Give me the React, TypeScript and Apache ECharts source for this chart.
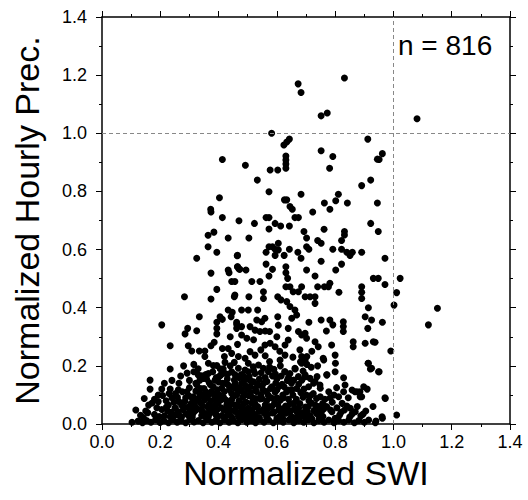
import React, { useEffect, useRef } from "react";
import * as echarts from "echarts";

// Scatter points, grouped by height band [SWI, Prec]
const upperPoints: [number, number][] = [
  [0.673,1.170],[0.683,1.140],[0.832,1.190],[0.752,1.060],[0.773,1.070],[1.081,1.050],[0.582,1.000],
  [0.643,0.980],[0.634,0.970],[0.624,0.960],[0.912,0.980],[0.752,0.940],[0.792,0.920],[0.962,0.930],
  [0.951,0.910],[0.413,0.910],[0.492,0.890],[0.631,0.922],[0.631,0.908],[0.631,0.894],[0.631,0.880],
  [0.577,0.874],[0.603,0.874],[0.781,0.880],[0.403,0.778],[0.373,0.739],[0.374,0.729],[0.413,0.710],
  [0.470,0.699],[0.384,0.660],[0.364,0.649],[0.433,0.640],[0.364,0.610],[0.394,0.591],[0.325,0.570],
  [0.464,0.579],[0.374,0.519],[0.433,0.530],[0.436,0.520],[0.465,0.541],[0.470,0.533],[0.533,0.839],
  [0.573,0.799],[0.683,0.790],[0.626,0.771],[0.634,0.771],[0.645,0.748],[0.653,0.739],[0.763,0.760],
  [0.802,0.768],[0.811,0.790],[0.782,0.739],[0.842,0.760],[0.891,0.820],[0.922,0.839],[0.945,0.911],
  [0.945,0.760],[0.723,0.729],[0.523,0.690],[0.563,0.710],[0.573,0.710],[0.594,0.690],[0.613,0.681],
  [0.643,0.681],[0.662,0.710],[0.674,0.710],[0.573,0.671],[0.504,0.640],[0.693,0.662],[0.702,0.640],
  [0.762,0.670],[0.740,0.631],[0.752,0.622],[0.832,0.662],[0.832,0.650],[0.822,0.631],[0.922,0.690],
  [0.948,0.662],[0.573,0.610],[0.585,0.610],[0.605,0.622],[0.594,0.601],[0.605,0.599],[0.563,0.591],
  [0.643,0.601],[0.625,0.580],[0.672,0.591],[0.683,0.570],[0.702,0.610],[0.710,0.601],[0.594,0.580],
  [0.792,0.601],[0.822,0.601],[0.840,0.591],[0.851,0.580],[0.859,0.591],[0.891,0.591],[0.752,0.560],
  [0.822,0.550],[0.802,0.530],[0.465,0.580],[0.465,0.541],[0.473,0.532],[0.494,0.530],[0.563,0.550],
  [0.585,0.532],[0.573,0.509],[0.631,0.541],[0.631,0.520],[0.637,0.501],[0.702,0.530],[0.731,0.509],
  [0.971,0.570],[1.023,0.501],[0.931,0.501],[0.948,0.501]
];

const middlePoints: [number, number][] = [
  [0.445,0.490],[0.456,0.490],[0.394,0.463],[0.514,0.490],[0.542,0.490],[0.631,0.472],[0.645,0.472],
  [0.740,0.472],[0.763,0.472],[0.782,0.484],[0.891,0.472],[0.971,0.480],[1.011,0.452],[1.002,0.409],
  [1.151,0.398],[1.120,0.341],[0.962,0.350],[0.991,0.251],[0.937,0.281],[0.283,0.438],[0.374,0.430],
  [0.454,0.438],[0.433,0.392],[0.447,0.384],[0.334,0.369],[0.405,0.369],[0.413,0.360],[0.394,0.350],
  [0.205,0.341],[0.443,0.369],[0.294,0.329],[0.285,0.310],[0.325,0.321],[0.394,0.329],[0.394,0.310],
  [0.462,0.350],[0.462,0.329],[0.385,0.281],[0.374,0.269],[0.234,0.269],[0.296,0.269],[0.308,0.251],
  [0.334,0.251],[0.353,0.251],[0.353,0.232],[0.413,0.260],[0.433,0.260],[0.445,0.243],[0.465,0.274],
  [0.365,0.209],[0.382,0.201],[0.394,0.201],[0.422,0.212],[0.454,0.212],[0.456,0.444],[0.504,0.438],
  [0.554,0.455],[0.554,0.432],[0.603,0.438],[0.614,0.427],[0.656,0.455],[0.674,0.455],[0.685,0.472],
  [0.697,0.438],[0.714,0.438],[0.731,0.438],[0.731,0.415],[0.777,0.472],[0.813,0.453],[0.891,0.453],
  [0.891,0.432],[0.634,0.421],[0.645,0.404],[0.479,0.392],[0.502,0.392],[0.534,0.392],[0.914,0.400],
  [0.603,0.369],[0.662,0.392],[0.668,0.375],[0.651,0.364],[0.639,0.329],[0.531,0.358],[0.548,0.352],
  [0.559,0.364],[0.462,0.343],[0.479,0.335],[0.508,0.335],[0.525,0.323],[0.542,0.318],[0.752,0.358],
  [0.782,0.358],[0.792,0.341],[0.828,0.352],[0.828,0.335],[0.828,0.318],[0.903,0.369],[0.925,0.358],
  [0.912,0.329],[0.674,0.318],[0.685,0.306],[0.697,0.312],[0.702,0.295],[0.479,0.306],[0.497,0.295],
  [0.639,0.289],[0.628,0.272],[0.594,0.266],[0.577,0.278],[0.559,0.272],[0.731,0.283],[0.742,0.266],
  [0.788,0.272],[0.862,0.283],[0.862,0.266],[0.903,0.278],[0.931,0.283],[0.508,0.249],[0.525,0.237],
  [0.491,0.226],[0.468,0.232],[0.611,0.220],[0.628,0.237],[0.679,0.255],[0.685,0.232],[0.697,0.220],
  [0.685,0.209],[0.759,0.226],[0.800,0.237],[0.914,0.209],[0.502,0.209],[0.681,0.214],[0.703,0.232],
  [0.703,0.205],[0.761,0.220],[0.801,0.209],[0.913,0.209],[0.921,0.189]
];

const lowPoints: [number, number][] = [
  [0.925,0.192],[0.519,0.197],[0.537,0.203],[0.554,0.192],[0.571,0.180],[0.525,0.174],[0.491,0.186],
  [0.468,0.192],[0.628,0.180],[0.645,0.174],[0.662,0.192],[0.674,0.163],[0.697,0.169],[0.714,0.157],
  [0.731,0.146],[0.748,0.134],[0.771,0.169],[0.800,0.180],[0.834,0.134],[0.868,0.111],[0.885,0.111],
  [0.891,0.094],[0.951,0.180],[0.971,0.090],[0.949,0.180],[0.234,0.189],[0.315,0.180],[0.342,0.166],
  [0.336,0.151],[0.365,0.174],[0.359,0.155],[0.408,0.169],[0.431,0.171],[0.445,0.180],[0.454,0.151],
  [0.165,0.151],[0.165,0.120],[0.214,0.140],[0.205,0.120],[0.234,0.120],[0.264,0.140],[0.276,0.111],
  [0.287,0.090],[0.193,0.100],[0.193,0.077],[0.188,0.056],[0.251,0.056],[0.264,0.077],[0.310,0.088],
  [0.317,0.071],[0.330,0.083],[0.348,0.100],[0.353,0.083],[0.367,0.065],[0.385,0.100],[0.408,0.083],
  [0.428,0.065],[0.445,0.083],[0.462,0.100],[0.627,0.180],[0.663,0.189],[0.698,0.163],[0.738,0.163],
  [0.772,0.169],[0.829,0.159],[0.898,0.128],[0.566,0.146],[0.583,0.128],[0.600,0.117],[0.618,0.137],
  [0.641,0.117],[0.658,0.151],[0.675,0.137],[0.686,0.151],[0.709,0.128],[0.726,0.140],[0.749,0.123],
  [0.778,0.111],[0.829,0.111],[0.858,0.117],[0.875,0.111],[0.886,0.094],[0.972,0.088],[0.749,0.094],
  [0.812,0.094],[0.824,0.071],[0.852,0.054],[0.583,0.060],[0.618,0.052],[0.658,0.071],[0.675,0.054],
  [0.698,0.058],[0.732,0.065],[0.761,0.052],[0.549,0.088],[0.560,0.065],[0.330,0.169],[0.348,0.157],
  [0.388,0.151],[0.405,0.166],[0.382,0.128],[0.411,0.123],[0.433,0.134],[0.456,0.123],[0.479,0.140],
  [0.508,0.128],[0.536,0.134],[0.291,0.111],[0.313,0.094],[0.336,0.106],[0.365,0.100],[0.388,0.088],
  [0.228,0.065],[0.251,0.054],[0.273,0.065],[0.296,0.058],[0.319,0.060],[0.365,0.054],[0.388,0.065],
  [0.433,0.054],[0.456,0.065],[0.502,0.054],[0.525,0.060],[0.470,0.160],[0.488,0.150],[0.505,0.163],
  [0.520,0.145],[0.540,0.155],[0.555,0.140],[0.500,0.120],[0.530,0.112],[0.470,0.125],[0.487,0.105],
  [0.515,0.092],[0.545,0.100],[0.470,0.080],[0.495,0.075],[0.525,0.070],[0.565,0.080],[0.600,0.090],
  [0.620,0.100],[0.640,0.085],[0.600,0.155],[0.615,0.165],[0.585,0.165],[0.420,0.112],[0.445,0.105],
  [0.400,0.145],[0.430,0.155],[0.372,0.135],[0.350,0.122],[0.325,0.135],[0.300,0.125],[0.252,0.105],
  [0.240,0.090],[0.220,0.080],[0.655,0.100],[0.690,0.092],[0.710,0.080],[0.725,0.105],[0.765,0.085],
  [0.790,0.075],[0.805,0.125],[0.845,0.090],[0.910,0.120],[0.930,0.060],[0.145,0.088],[0.172,0.072]
];

// extra marks in the solid black mass near the bottom of the cloud
const densePoints: [number, number][] = [
  [0.262,0.042],[0.285,0.078],[0.303,0.050],[0.322,0.113],[0.338,0.072],[0.343,0.045],[0.357,0.110],
  [0.374,0.080],[0.379,0.045],[0.396,0.118],[0.398,0.072],[0.417,0.092],[0.418,0.048],[0.424,0.140],
  [0.440,0.066],[0.449,0.128],[0.462,0.040],[0.468,0.110],[0.476,0.058],[0.483,0.092],[0.492,0.132],
  [0.498,0.040],[0.510,0.108],[0.515,0.050],[0.528,0.088],[0.533,0.138],[0.538,0.045],[0.552,0.118],
  [0.556,0.052],[0.570,0.100],[0.574,0.060],[0.578,0.122],[0.592,0.072],[0.596,0.140],[0.606,0.048],
  [0.612,0.082],[0.625,0.128],[0.630,0.062],[0.636,0.150],[0.648,0.045],[0.652,0.118],[0.667,0.085],
  [0.670,0.040],[0.682,0.108],[0.705,0.042],[0.716,0.098],[0.740,0.048],[0.757,0.070],[0.784,0.048],
  [0.796,0.100],[0.820,0.040],[0.840,0.062],[0.876,0.060],[0.905,0.045],[0.416,0.190],[0.440,0.200],
  [0.478,0.170],[0.502,0.180],[0.546,0.176],[0.560,0.160],[0.590,0.188],[0.612,0.200],[0.650,0.140],
  [0.610,0.250],[0.560,0.235],[0.575,0.215],[0.545,0.255],[0.600,0.300],[0.575,0.318],[0.520,0.290],
  [0.655,0.230],[0.720,0.250],[0.740,0.200],[0.770,0.320],[0.710,0.350],[0.605,0.340],[0.560,0.320],
  [0.440,0.300],[0.420,0.232],[0.315,0.205],[0.280,0.200],[0.270,0.165],[0.240,0.150],[0.300,0.150],
  [0.405,0.190],[0.380,0.180],[0.330,0.190]
];

// further marks filling the darkest part of the cloud
const coreMassPoints: [number, number][] = [
  [0.214,0.028],[0.221,0.058],[0.238,0.040],[0.247,0.075],[0.259,0.092],[0.266,0.028],[0.281,0.058],
  [0.289,0.035],[0.297,0.098],[0.306,0.070],[0.312,0.036],[0.327,0.052],[0.333,0.090],[0.339,0.122],
  [0.346,0.062],[0.354,0.036],[0.361,0.090],[0.368,0.142],[0.376,0.112],[0.384,0.056],[0.391,0.032],
  [0.402,0.100],[0.409,0.056],[0.414,0.140],[0.426,0.082],[0.431,0.030],[0.437,0.118],[0.443,0.046],
  [0.451,0.095],[0.457,0.140],[0.463,0.060],[0.472,0.032],[0.479,0.118],[0.486,0.070],[0.494,0.050],
  [0.502,0.098],[0.508,0.150],[0.513,0.072],[0.521,0.034],[0.526,0.122],[0.534,0.060],[0.543,0.086],
  [0.549,0.130],[0.558,0.036],[0.563,0.112],[0.569,0.052],[0.581,0.090],[0.586,0.038],[0.594,0.110],
  [0.603,0.066],[0.609,0.130],[0.617,0.040],[0.623,0.090],[0.633,0.110],[0.638,0.050],[0.645,0.070],
  [0.661,0.056],[0.668,0.122],[0.679,0.070],[0.686,0.036],[0.693,0.120],[0.701,0.100],[0.708,0.060],
  [0.719,0.072],[0.727,0.046],[0.736,0.088],[0.744,0.060],[0.752,0.040],[0.771,0.060],[0.783,0.090],
  [0.806,0.056],[0.832,0.048],[0.858,0.034],[0.896,0.034],[0.322,0.140],[0.356,0.170],[0.392,0.160],
  [0.420,0.175],[0.456,0.170],[0.484,0.165],[0.520,0.185],[0.575,0.196],[0.595,0.172],[0.640,0.160],
  [0.690,0.182],[0.718,0.195],[0.292,0.175],[0.262,0.118],[0.230,0.105],[0.208,0.098],[0.180,0.085],
  [0.160,0.065],[0.132,0.030],[0.150,0.045],[0.205,0.050],[0.365,0.025],[0.395,0.022],[0.475,0.022],
  [0.520,0.018],[0.565,0.022],[0.620,0.020],[0.680,0.024],[0.720,0.018]
];

const basePoints: [number, number][] = [
  [0.116,0.048],[0.157,0.039],[0.180,0.033],[0.225,0.045],[0.234,0.025],[0.279,0.048],[0.302,0.037],
  [0.319,0.045],[0.342,0.029],[0.371,0.037],[0.394,0.048],[0.411,0.029],[0.433,0.037],[0.456,0.045],
  [0.468,0.025],[0.251,0.030],[0.273,0.024],[0.296,0.030],[0.479,0.042],[0.490,0.030],[0.511,0.036],
  [0.529,0.026],[0.548,0.044],[0.569,0.033],[0.590,0.040],[0.611,0.028],[0.632,0.037],[0.650,0.026],
  [0.672,0.034],[0.693,0.040],[0.714,0.028],[0.736,0.036],[0.758,0.026],[0.789,0.042],[0.815,0.030],
  [0.869,0.042],[0.888,0.028],[0.961,0.025],[1.011,0.031],[0.962,0.020],[0.940,0.010],[0.103,0.006],
  [0.124,0.010],[0.139,0.004],[0.153,0.012],[0.168,0.006],[0.184,0.015],[0.199,0.005],[0.212,0.012],
  [0.228,0.004],[0.243,0.014],[0.258,0.006],[0.271,0.012],[0.287,0.004],[0.301,0.016],[0.316,0.007],
  [0.331,0.012],[0.347,0.004],[0.362,0.015],[0.377,0.006],[0.390,0.012],[0.405,0.004],[0.421,0.014],
  [0.436,0.006],[0.451,0.012],[0.466,0.004],[0.481,0.016],[0.497,0.006],[0.512,0.012],[0.527,0.004],
  [0.541,0.014],[0.556,0.006],[0.572,0.014],[0.588,0.004],[0.606,0.012],[0.622,0.006],[0.641,0.014],
  [0.658,0.004],[0.675,0.012],[0.692,0.006],[0.709,0.014],[0.727,0.004],[0.744,0.012],[0.762,0.006],
  [0.778,0.014],[0.796,0.004],[0.812,0.012],[0.830,0.006],[0.847,0.014],[0.866,0.004],[0.881,0.012],
  [0.900,0.006],[0.915,0.014],[0.938,0.004],[0.142,0.022],[0.196,0.026],[0.310,0.024],[0.357,0.022],
  [0.420,0.021],[0.445,0.024],[0.500,0.021],[0.540,0.022],[0.600,0.020],[0.660,0.020],[0.700,0.022],
  [0.745,0.020],[0.800,0.020],[0.850,0.024]
];

const sampleCount = "816";
const xTicks = [0, 0.2, 0.4, 0.6, 0.8, 1.0, 1.2, 1.4];
const refValue = 1.0;

const FONT = "'Liberation Sans', Arial, Helvetica, sans-serif";

export default function App() {
  const ref = useRef<HTMLDivElement>(null);
  useEffect(() => {
    if (!ref.current) return;
    const chart = echarts.init(ref.current, null, { renderer: "svg" });
    const all = [...upperPoints, ...middlePoints, ...lowPoints, ...densePoints, ...coreMassPoints, ...basePoints];
    const axMin = xTicks[0];
    const axMax = xTicks[xTicks.length - 1];
    const line = { show: true, onZero: false, lineStyle: { color: "#000", width: 1.5 } };
    const tick = { show: true, inside: false, length: 6, lineStyle: { color: "#000", width: 1 } };
    const minor = { show: true, splitNumber: 2, length: 3, lineStyle: { color: "#000", width: 1 } };
    const fmt = (v: number) => v.toFixed(1);
    chart.setOption({
      animation: false,
      backgroundColor: "#fff",
      grid: { left: 102, right: 18, top: 17, bottom: 76, containLabel: false },
      xAxis: [
        {
          type: "value", min: axMin, max: axMax, interval: 0.2, position: "bottom",
          axisLine: line, axisTick: tick, minorTick: minor, splitLine: { show: false },
          axisLabel: { color: "#000", fontSize: 18, fontFamily: FONT, margin: 9, formatter: fmt },
          name: "Normalized SWI", nameLocation: "middle", nameGap: 30,
          nameTextStyle: { color: "#000", fontSize: 34, fontFamily: FONT, verticalAlign: "top" }
        },
        {
          type: "value", min: axMin, max: axMax, interval: 0.2, position: "top",
          axisLine: line, axisTick: tick, minorTick: minor, splitLine: { show: false },
          axisLabel: { show: false }
        }
      ],
      yAxis: [
        {
          type: "value", min: axMin, max: axMax, interval: 0.2, position: "left",
          axisLine: line, axisTick: tick, minorTick: minor, splitLine: { show: false },
          axisLabel: { color: "#000", fontSize: 18, fontFamily: FONT, margin: 15, formatter: fmt },
          name: "Normalized Hourly Prec.", nameLocation: "middle", nameGap: 58,
          nameTextStyle: { color: "#000", fontSize: 34, fontFamily: FONT }
        },
        {
          type: "value", min: axMin, max: axMax, interval: 0.2, position: "right",
          axisLine: line, axisTick: tick, minorTick: minor, splitLine: { show: false },
          axisLabel: { show: false }
        }
      ],
      graphic: [
        {
          type: "text", left: 398, top: 31,
          style: { text: "n = " + sampleCount, fill: "#000", fontSize: 28, fontFamily: FONT }
        }
      ],
      series: [
        {
          type: "scatter",
          data: all,
          symbol: "circle",
          symbolSize: 7,
          itemStyle: { color: "#000", opacity: 1 },
          silent: true,
          markLine: {
            silent: true,
            symbol: ["none", "none"],
            label: { show: false },
            lineStyle: { color: "#888", type: [4, 3], width: 1 },
            data: [{ xAxis: refValue }, { yAxis: refValue }]
          }
        }
      ]
    });
    return () => chart.dispose();
  }, []);
  return <div ref={ref} style={{ position: "absolute", left: 0, top: 0, width: 528, height: 500 }} />;
}
